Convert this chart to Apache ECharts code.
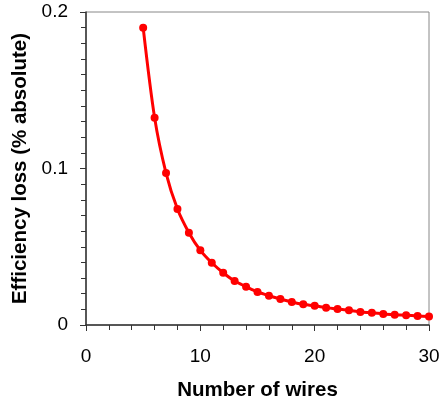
<!DOCTYPE html>
<html><head><meta charset="utf-8">
<script src="https://cdn.jsdelivr.net/npm/echarts@6/dist/echarts.min.js"></script>
<style>html,body{margin:0;padding:0;background:#fff}#c{width:440px;height:403px}</style>
</head><body><div id="c"></div>
<script>
const wires = [5,6,7,8,9,10,11,12,13,14,15,16,17,18,19,20,21,22,23,24,25,26,27,28,29,30];
const loss = [0.190,0.1325,0.0971,0.0741,0.0590,0.0477,0.0398,0.0334,0.0281,0.0245,0.0211,0.0187,0.0166,0.0147,0.0132,0.0123,0.0111,0.0102,0.0094,0.0083,0.0078,0.0071,0.0066,0.0062,0.0058,0.0054];
const xTitle = 'Number of wires';
const yTitle = 'Efficiency loss (% absolute)';
const chart = echarts.init(document.getElementById('c'));
const font = 'Liberation Sans, Arial, sans-serif';
chart.setOption({
  animation:false,
  grid:{left:86,right:11,top:12,bottom:78,show:true,borderColor:'#888',borderWidth:1,
    outerBoundsMode:'none',containLabel:false},
  xAxis:{type:'value',min:0,max:30,interval:10,
    name:xTitle,nameLocation:'middle',nameGap:55,
    nameTextStyle:{fontFamily:font,fontSize:20.5,fontWeight:'bold',color:'#000'},
    axisLine:{lineStyle:{color:'#333',width:1.5}},
    axisTick:{length:6,lineStyle:{color:'#333'}},
    minorTick:{show:true,splitNumber:5,length:5,lineStyle:{color:'#333'}},
    axisLabel:{fontFamily:font,fontSize:19,color:'#000',margin:22},
    splitLine:{show:false}},
  yAxis:{type:'value',min:0,max:0.2,interval:0.1,
    name:yTitle,nameLocation:'middle',nameGap:55,
    nameTextStyle:{fontFamily:font,fontSize:20.5,fontWeight:'bold',color:'#000'},
    axisLine:{show:true,lineStyle:{color:'#333',width:1.5}},
    axisTick:{show:true,length:6,lineStyle:{color:'#333'}},
    minorTick:{show:true,splitNumber:10,length:5,lineStyle:{color:'#333'}},
    axisLabel:{fontFamily:font,fontSize:19,color:'#000',margin:18,
      formatter:v=>v===0?'0':String(+v.toFixed(1))},
    splitLine:{show:false}},
  series:[{type:'line',data:wires.map((w,i)=>[w,loss[i]]),smooth:0.3,
    symbol:'circle',symbolSize:8,
    itemStyle:{color:'#ff0000'},lineStyle:{color:'#ff0000',width:3}}]
});
</script></body></html>
